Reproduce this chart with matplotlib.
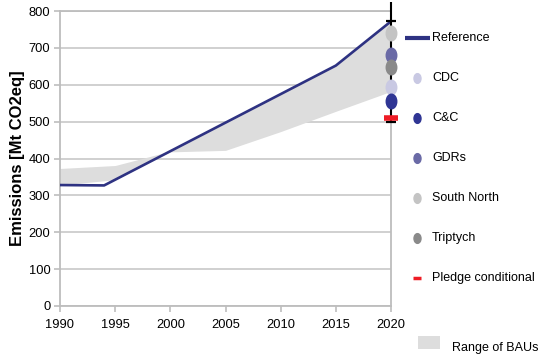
import matplotlib
matplotlib.use("Agg")
import matplotlib.pyplot as plt
from matplotlib.path import Path
from matplotlib.lines import Line2D
from matplotlib.patches import Rectangle
from matplotlib.transforms import Affine2D
import numpy as np

# Reference emission pathway
ref_years = [1990, 1994, 2015, 2020]
ref_values = [328, 327, 652, 772]

# Second BAU pathway; the shaded band spans between it and the reference
bau_years = [1990, 1995, 2000, 2005, 2010, 2015, 2020]
bau_alt = [373, 381, 418, 422, 473, 528, 582]

# Allocation scenarios for 2020
scenario_names = ["CDC", "C&C", "GDRs", "South North", "Triptych"]
scenario_2020 = [594, 555, 680, 740, 648]
scenario_colors = ["#c9c9e3", "#2f3594", "#6a6aa6", "#c4c4c4", "#8a8a8a"]

pledge_label = "Pledge conditional"
pledge_2020 = 509

# Vertical range drawn at 2020
range_low, range_high = 500, 825
range_caps = [500, 774]

target_year = 2020
x_ticks = [1990, 1995, 2000, 2005, 2010, 2015, 2020]
y_ticks = [0, 100, 200, 300, 400, 500, 600, 700, 800]

plt.rcParams["font.family"] = ["Liberation Sans", "DejaVu Sans"]

W, H = 543, 359
fig = plt.figure(figsize=(W / 100, H / 100), dpi=100)
ax = fig.add_axes([60 / W, 1 - 306 / H, 331 / W, 295 / H])

# pixel coordinates measured from the top-left corner of the figure
px = Affine2D().scale(1 / W, -1 / H).translate(0, 1) + fig.transFigure

# Band between the two BAU pathways
ref_on_grid = np.interp(bau_years, ref_years, ref_values)
ax.fill_between(bau_years, np.minimum(ref_on_grid, bau_alt),
                np.maximum(ref_on_grid, bau_alt),
                color="#dddddd", lw=0, zorder=1)

ax.plot(ref_years, ref_values, color="#2e3282", lw=1.9, zorder=3,
        solid_capstyle="butt")

# Black range line with caps
ax.vlines(target_year, range_low, range_high, color="black", lw=1.5,
          zorder=4, clip_on=False)
ax.hlines(range_caps, target_year - 0.45, target_year + 0.45,
          color="black", lw=1.6, zorder=4, clip_on=False)

# Tall oval marker
circle = Path.unit_circle()
oval = Path(circle.vertices * np.array([0.72, 1.0]), circle.codes)

for name, val, col in zip(scenario_names, scenario_2020, scenario_colors):
    ax.plot([target_year], [val], marker=oval, markersize=10.5, color=col,
            mec=col, ls="none", zorder=5, clip_on=False)

ax.plot([target_year], [pledge_2020], marker="_", markersize=10, mew=4,
        color="#ee1c25", ls="none", zorder=6, clip_on=False)

ax.set_xlim(1990, 2020)
ax.set_ylim(0, 800)
ax.set_xticks(x_ticks)
ax.set_yticks(y_ticks)
ax.yaxis.grid(True, color="#c8c8c8", lw=1.2, zorder=0)
ax.set_axisbelow(True)
for s in ax.spines.values():
    s.set_color("#bdbdbd")
    s.set_linewidth(1.3)
ax.tick_params(axis="both", direction="out", color="#bdbdbd", length=4,
               width=1.2, labelsize=9.3, pad=3)
ax.tick_params(axis="x", pad=5)

ax.set_ylabel("Emissions [Mt CO2eq]", fontsize=12, fontweight="bold")
ax.yaxis.set_label_coords(-0.106, 0.5)

# Key: reference line, scenario dots and pledge dash, one row every 40 px
row_y = [38 + 40 * i for i in range(7)]
fig.add_artist(Line2D([405, 430], [row_y[0], row_y[0]], color="#2e3282",
                      lw=3, transform=px, solid_capstyle="butt"))
fig.text(432, row_y[0], "Reference", fontsize=9, va="center", ha="left",
         transform=px)
for y, name, col in zip(row_y[1:6], scenario_names, scenario_colors):
    fig.add_artist(Line2D([417], [y], marker=oval, markersize=7, color=col,
                          ls="none", transform=px))
    fig.text(432, y, name, fontsize=9, va="center", ha="left", transform=px)
fig.add_artist(Line2D([417], [row_y[6]], marker="_", markersize=6, mew=2.5,
                      color="#ee1c25", ls="none", transform=px))
fig.text(432, row_y[6], pledge_label, fontsize=9, va="center", ha="left",
         transform=px)

# Shaded-band key
fig.add_artist(Rectangle((418, 336), 22, 13, transform=px,
                         facecolor="#dddddd", edgecolor="none"))
fig.text(452, 348, "Range of BAUs", fontsize=9, va="center", ha="left",
         transform=px)

fig.savefig("out.png", dpi=100)
